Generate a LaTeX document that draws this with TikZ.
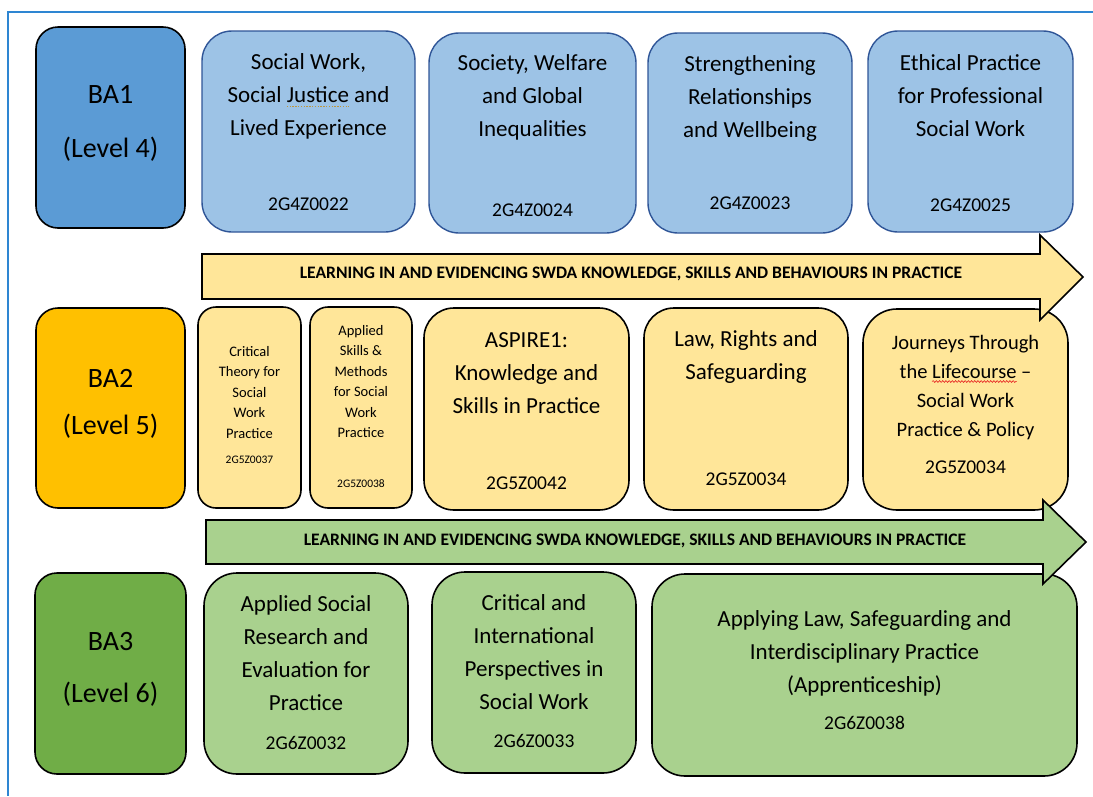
\documentclass[tikz,border=0pt]{standalone}
\usepackage{fontspec}
\setmainfont{Carlito}
\usetikzlibrary{decorations.pathmorphing}

\definecolor{framecol}{RGB}{46,134,210}
\definecolor{lvlblue}{RGB}{91,155,213}
\definecolor{modblue}{RGB}{157,195,230}
\definecolor{modblueline}{RGB}{47,85,151}
\definecolor{lvlyellow}{RGB}{255,192,0}
\definecolor{modyellow}{RGB}{255,230,153}
\definecolor{lvlgreen}{RGB}{112,173,71}
\definecolor{modgreen}{RGB}{169,209,142}
\definecolor{grammargold}{RGB}{190,150,60}
\definecolor{spellred}{RGB}{230,30,30}

% proofing marks under single words
\newlength\marklen
\newcommand\grammarline[1]{\settowidth\marklen{#1}\tikz[overlay]\draw[grammargold,line width=1.2pt,dash pattern=on 1.4pt off 1.4pt] (0pt,-4pt) -- (\marklen,-4pt);#1}
\newcommand\spellline[1]{\settowidth\marklen{#1}\tikz[overlay]\draw[spellred,line width=0.6pt,decorate,decoration={snake,amplitude=0.9pt,segment length=3.2pt}] (0pt,-3pt) -- (\marklen,-3pt);#1}

% rounded module box given by its corners: name, style, x1, y1, x2, y2
\newcommand\modbox[6]{%
  \node[#2, minimum width={#5-#3}, minimum height={#6-#4}] (#1) at ({(#3+#5)/2},{(#4+#6)/2}) {};}

\begin{document}
\begin{tikzpicture}[x=1pt,y=-1pt,
  box/.style={rectangle, draw=black, line width=1.6pt, inner sep=0, outer sep=0},
  levelbox/.style={box, rounded corners=22pt},
  bluebox/.style={box, draw=modblueline, line width=1.4pt, fill=modblue, rounded corners=30pt},
  yellowbox/.style={box, fill=modyellow, rounded corners=30pt},
  narrowbox/.style={box, fill=modyellow, rounded corners=18pt},
  greenbox/.style={box, fill=modgreen, rounded corners=33pt},
  title/.style={inner sep=0, align=center, anchor=north, font=\fontsize{23}{33}\selectfont},
  midtitle/.style={inner sep=0, align=center, anchor=north, font=\fontsize{20.5}{29}\selectfont},
  smalltitle/.style={inner sep=0, align=center, anchor=north, font=\fontsize{14.5}{20.5}\selectfont},
  code/.style={inner sep=0, anchor=base, font=\fontsize{19.5}{23}\selectfont},
  smallcode/.style={inner sep=0, anchor=base, font=\fontsize{11.5}{14}\selectfont},
  level/.style={inner sep=0, anchor=base, font=\fontsize{28}{34}\selectfont},
  banner/.style={inner sep=0, anchor=base, font=\bfseries\fontsize{17.55}{20}\selectfont},
  arrowline/.style={draw=black, line width=1.6pt, line join=miter}
]
\useasboundingbox (0,0) rectangle (1093,796);

% page frame
\draw[framecol, line width=2pt] (1093,11.5) -- (7.5,11.5) -- (7.5,796);

% ---------- BA1 ----------
\modbox{ba1}{levelbox, fill=lvlblue}{36}{27}{185}{228}
\node[level] (ba1a) at (110.5,103) {BA1};
\node[level] (ba1b) at (110.5,157) {(Level 4)};

\modbox{m22}{bluebox}{202}{31}{415}{232}
\node[title] (m22t) at (308.5,46.4) {\strut Social Work,\\Social \grammarline{Justice} and\\Lived Experience};
\node[code] (m22c) at (308.5,210.3) {2G4Z0022};

\modbox{m24}{bluebox}{429}{33}{636}{233}
\node[title] (m24t) at (532.5,47.4) {\strut Society, Welfare\\and Global\\Inequalities};
\node[code] (m24c) at (532.5,216.5) {2G4Z0024};

\modbox{m23}{bluebox}{648}{33}{852}{233}
\node[title] (m23t) at (750,48.4) {\strut Strengthening\\Relationships\\and Wellbeing};
\node[code] (m23c) at (750,209.5) {2G4Z0023};

\modbox{m25}{bluebox}{868}{31}{1073}{232}
\node[title] (m25t) at (970.5,47.4) {\strut Ethical Practice\\for Professional\\Social Work};
\node[code] (m25c) at (970.5,211.5) {2G4Z0025};

% ---------- BA2 ----------
\modbox{ba2}{levelbox, fill=lvlyellow}{36}{308}{185}{508}
\node[level] (ba2a) at (110.5,387) {BA2};
\node[level] (ba2b) at (110.5,434) {(Level 5)};

\modbox{m37}{narrowbox}{198}{307}{301}{508}
\node[smalltitle] (m37t) at (249.5,341.6) {\strut Critical\\Theory for\\Social\\Work\\Practice};
\node[smallcode] (m37c) at (249.5,463.5) {2G5Z0037};

\modbox{m38}{narrowbox}{310}{307}{412}{508}
\node[smalltitle] (m38t) at (361,320.6) {\strut Applied\\Skills \&\\Methods\\for Social\\Work\\Practice};
\node[smallcode] (m38c) at (361,487) {2G5Z0038};

\modbox{m42}{yellowbox}{424}{308}{629}{510}
\node[title] (m42t) at (526.5,324.6) {\strut ASPIRE1:\\Knowledge and\\Skills in Practice};
\node[code] (m42c) at (526.5,489) {2G5Z0042};

\modbox{m34}{yellowbox}{644}{308}{848}{510}
\node[title] (m34t) at (746,323.4) {\strut Law, Rights and\\Safeguarding};
\node[code] (m34c) at (746,485.7) {2G5Z0034};

\modbox{mlc}{yellowbox, rounded corners=34pt}{863}{309}{1068}{510}
\node[midtitle] (mlct) at (965.5,329) {\strut Journeys Through\\the \spellline{Lifecourse} --\\Social Work\\Practice \& Policy};
\node[code] (mlcc) at (965.5,473.3) {2G5Z0034};

% ---------- BA3 ----------
\modbox{ba3}{levelbox, fill=lvlgreen}{35}{573}{186}{774}
\node[level] (ba3a) at (110.5,650) {BA3};
\node[level] (ba3b) at (110.5,702) {(Level 6)};

\modbox{m32}{greenbox}{204}{573}{408}{774}
\node[title] (m32t) at (306,588.6) {\strut Applied Social\\Research and\\Evaluation for\\Practice};
\node[code] (m32c) at (306,749) {2G6Z0032};

\modbox{m33}{greenbox}{432}{572}{636}{773}
\node[title] (m33t) at (534,587.4) {\strut Critical and\\International\\Perspectives in\\Social Work};
\node[code] (m33c) at (534,747.5) {2G6Z0033};

\modbox{m6038}{greenbox}{652}{574}{1077}{776}
\node[title] (m6038t) at (864.5,603) {\strut Applying Law, Safeguarding and\\Interdisciplinary Practice\\(Apprenticeship)};
\node[code] (m6038c) at (864.5,729.3) {2G6Z0038};

% ---------- practice-learning arrows ----------
\draw[arrowline, fill=modyellow] (202,254) -- (1040,254) -- (1040,235) -- (1083,277)
  -- (1040,320) -- (1040,299) -- (202,299) -- cycle;
\node[banner] (arrowA) at (631,278.5) {LEARNING IN AND EVIDENCING SWDA KNOWLEDGE, SKILLS AND BEHAVIOURS IN PRACTICE};

\draw[arrowline, fill=modgreen] (206,520) -- (1043,520) -- (1043,500) -- (1086,542)
  -- (1043,584) -- (1043,564) -- (206,564) -- cycle;
\node[banner] (arrowB) at (635,545) {LEARNING IN AND EVIDENCING SWDA KNOWLEDGE, SKILLS AND BEHAVIOURS IN PRACTICE};
\end{tikzpicture}
\end{document}
